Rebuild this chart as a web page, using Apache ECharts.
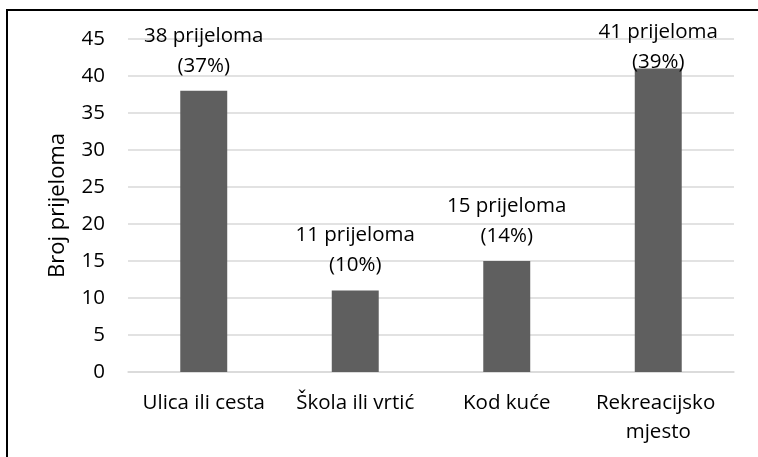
<!DOCTYPE html>
<html>
<head>
<meta charset="utf-8">
<script src="https://cdn.jsdelivr.net/npm/echarts@6/dist/echarts.min.js"></script>
<style>
  html, body { margin: 0; padding: 0; background: #fff; }
  #chart { width: 758px; height: 457px; }
</style>
</head>
<body>
<div id="chart"></div>
<script>
  // podaci
  const categories = ['Ulica ili cesta', 'Škola ili vrtić', 'Kod kuće', 'Rekreacijsko mjesto'];
  const counts = [38, 11, 15, 41];
  const percents = [37, 10, 14, 39];
  const yTicks = { min: 0, max: 45, interval: 5 };

  const font = '"Open Sans", "Noto Sans", sans-serif';

  let myChart = echarts.init(document.getElementById('chart'));

  let seriesData = counts.map(function (v, i) {
    // zadnji stupac: oznaka gurnuta dolje kao u Excelu
    if (i === counts.length - 1) {
      return { value: v, label: { distance: -9 } };
    }
    return v;
  });

  let option = {
    animation: false,
    textStyle: { fontFamily: font },
    graphic: [{
      type: 'rect',
      shape: { x: 7, y: 10, width: 800, height: 500 },
      style: { fill: 'none', stroke: '#000', lineWidth: 2 }
    }],
    grid: { left: 128, right: 24, top: 39, bottom: 85 },
    xAxis: {
      type: 'category',
      data: categories,
      axisLine: { show: true, lineStyle: { color: '#d9d9d9', width: 1.5 } },
      axisTick: { show: false },
      axisLabel: {
        interval: 0,
        color: '#000',
        fontSize: 20.5,
        fontFamily: font,
        margin: 17,
        lineHeight: 29,
        width: 148,
        overflow: 'break'
      }
    },
    yAxis: {
      type: 'value',
      min: yTicks.min,
      max: yTicks.max,
      interval: yTicks.interval,
      name: 'Broj prijeloma',
      nameLocation: 'middle',
      nameGap: 59,
      nameTextStyle: { color: '#000', fontSize: 22, fontFamily: font },
      axisLine: { show: false },
      axisTick: { show: false },
      axisLabel: { color: '#000', fontSize: 20.5, fontFamily: font, margin: 23 },
      splitLine: { lineStyle: { color: '#d9d9d9', width: 1.5 } }
    },
    series: [{
      type: 'bar',
      data: seriesData,
      barWidth: '31%',
      itemStyle: { color: '#5f5f5f' },
      label: {
        show: true,
        position: 'top',
        distance: 10,
        color: '#000',
        fontSize: 20.5,
        fontFamily: font,
        lineHeight: 30,
        align: 'center',
        formatter: function (p) {
          return counts[p.dataIndex] + ' prijeloma\n(' + percents[p.dataIndex] + '%)';
        }
      }
    }]
  };

  myChart.setOption(option);
</script>
</body>
</html>
